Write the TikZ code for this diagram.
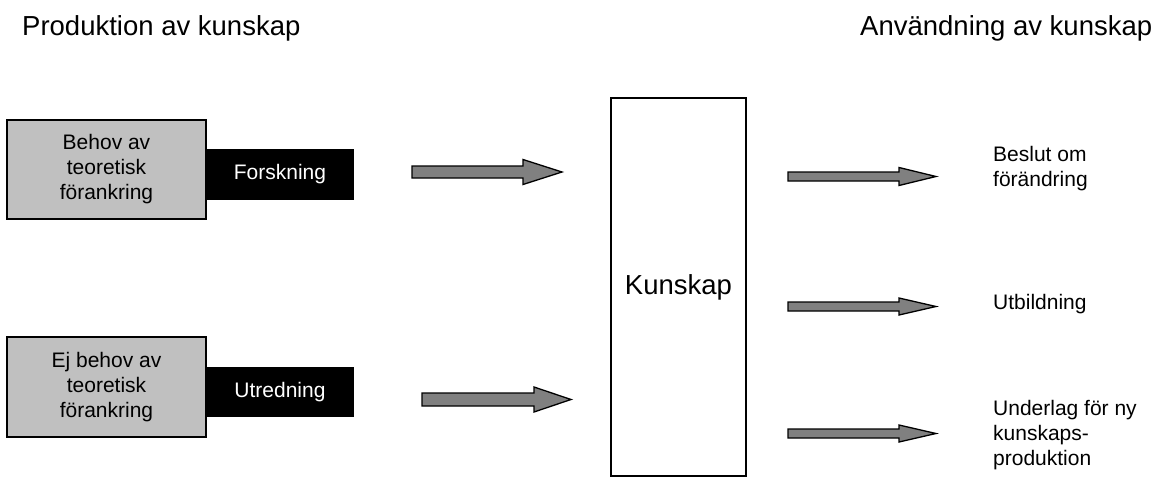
\documentclass[tikz,border=0pt]{standalone}
\usepackage{fontspec}
\setmainfont{Liberation Sans}
\usetikzlibrary{calc}
\definecolor{boxgray}{HTML}{C0C0C0}
\definecolor{arrowgray}{HTML}{808080}

% Block arrow drawn from a tail coordinate to a tip coordinate:
% #3 head length, #4 half shaft width, #5 half head width
\newcommand\blockarrowshape[5]{%
  \draw[blockarrow] ($(#1)+(0,-#4)$) -- ($(#2)+(-#3,-#4)$) -- ($(#2)+(-#3,-#5)$)
    -- (#2) -- ($(#2)+(-#3,#5)$) -- ($(#2)+(-#3,#4)$) -- ($(#1)+(0,#4)$) -- cycle;}

\tikzset{
  big/.style={font=\fontsize{27.5}{33}\selectfont},
  small/.style={font=\fontsize{21}{25}\selectfont},
  needbox/.style={draw, line width=1.3pt, fill=boxgray, small, align=center,
    inner sep=0pt, minimum width=199pt},
  methodbox/.style={fill=black, text=white, small, inner sep=0pt,
    minimum width=148pt},
  blockarrow/.style={draw, line width=1.3pt, fill=arrowgray, line join=miter},
  label/.style={small, inner sep=0pt, align=left},
}

\begin{document}
\begin{tikzpicture}[x=1pt, y=-1pt]
  \fill[white] (0,0) rectangle (1164,479);
  \useasboundingbox (0,0) rectangle (1164,479);

  % headings
  \node[big, inner sep=0pt, anchor=base west] (prod) at (22,35) {Produktion av kunskap};
  \node[big, inner sep=0pt, anchor=base west] (anv) at (860,35) {Användning av kunskap};

  % production side
  \node[needbox, minimum height=99pt] (behov) at (106.5,169.5)
    {Behov av\\teoretisk\\förankring};
  \node[methodbox, minimum height=51pt] (forsk) at (280,174.5) {Forskning};

  \node[needbox, minimum height=100pt] (ejbehov) at (106.5,387)
    {Ej behov av\\teoretisk\\förankring};
  \node[methodbox, minimum height=50pt] (utred) at (280,392) {Utredning};

  % knowledge
  \node[draw, line width=1.2pt, big, minimum width=135pt, minimum height=378pt,
    inner sep=0pt] (kunskap) at (678.5,287) {Kunskap};

  % use side
  \node[label, anchor=north west] (beslut) at (993,145.7) {Beslut om\\förändring};
  \node[label, anchor=base west] (utb) at (993,309) {Utbildning};
  \node[label, anchor=north west] (underlag) at (993,399.7)
    {Underlag för ny\\kunskaps-\\produktion};

  % arrow end points
  \coordinate (a1t) at (412,172);   \coordinate (a1h) at (562,172);
  \coordinate (a2t) at (422,399.5); \coordinate (a2h) at (571,399.5);
  \coordinate (r1t) at (788,176.5); \coordinate (r1h) at (936,176.5);
  \coordinate (r2t) at (788,306.5); \coordinate (r2h) at (936,306.5);
  \coordinate (r3t) at (788,433.5); \coordinate (r3h) at (936,433.5);

  \blockarrowshape{a1t}{a1h}{39}{6}{12.5}
  \blockarrowshape{a2t}{a2h}{37}{6.5}{12.5}
  \blockarrowshape{r1t}{r1h}{37}{4.5}{9}
  \blockarrowshape{r2t}{r2h}{37}{4.5}{8.5}
  \blockarrowshape{r3t}{r3h}{37}{4.5}{8.5}
\end{tikzpicture}
\end{document}
